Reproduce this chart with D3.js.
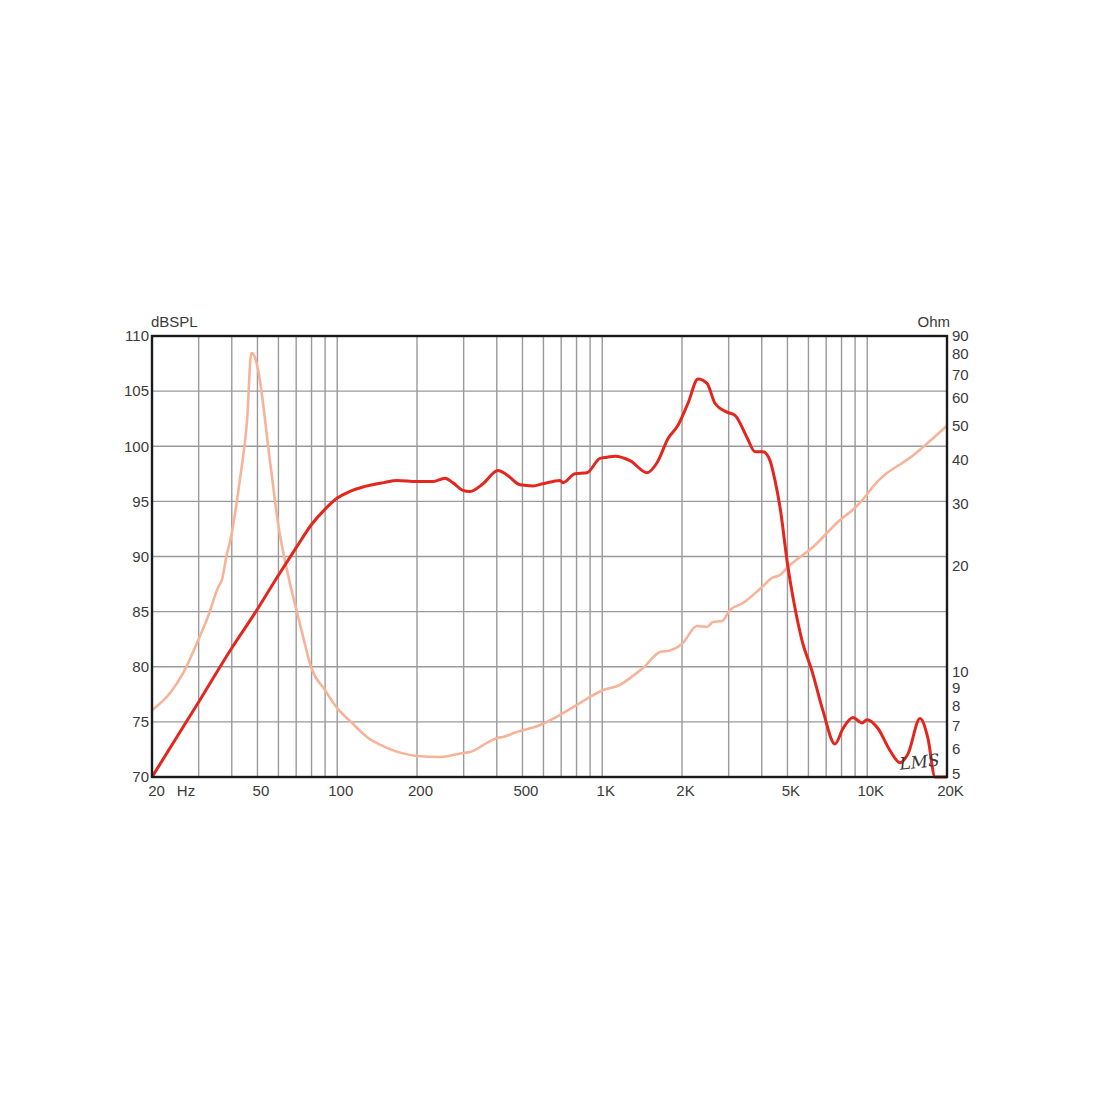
<!DOCTYPE html>
<html>
<head>
<meta charset="utf-8">
<script src="https://cdn.jsdelivr.net/npm/d3@7"></script>
<style>
  html, body { margin: 0; padding: 0; background: #fff; }
  svg { display: block; }
  text { font-family: "Liberation Sans", Arial, sans-serif; fill: #3a3a3a; }
</style>
</head>
<body>
<svg id="chart" width="1100" height="1100"></svg>
<script>
// ---- Data ----
const splFreq = [20, 30, 40, 49.3, 60, 70, 80, 90, 100, 111.7, 125, 150, 168, 200, 230, 255, 273, 298, 317, 355, 404, 437, 490, 548, 598, 693, 710, 789, 876, 981, 1043, 1117, 1273, 1476, 1610, 1772, 1932, 2107, 2299, 2486, 2664, 2956, 3170, 3518, 3772, 4044, 4297, 4487, 4686, 5024, 5246, 5673, 6190, 6810, 7557, 8101, 8835, 9553, 9980, 10980, 12190, 13300, 14250, 15820, 16950, 18030, 20000];
const splDb   = [70, 76.8, 81.7, 85.0, 88.3, 90.8, 92.9, 94.3, 95.3, 95.9, 96.3, 96.7, 96.9, 96.8, 96.8, 97.1, 96.7, 96.0, 95.9, 96.6, 97.8, 97.4, 96.5, 96.4, 96.6, 96.9, 96.7, 97.5, 97.6, 98.9, 99.0, 99.1, 98.7, 97.6, 98.5, 100.7, 101.9, 103.9, 106.1, 105.7, 103.9, 103.1, 102.8, 100.8, 99.5, 99.5, 98.7, 96.9, 94.5, 89.0, 86.3, 82.4, 79.6, 76.0, 73.0, 74.4, 75.4, 74.9, 75.2, 74.4, 72.4, 71.3, 72.1, 75.3, 73.5, 70, 70];

const impFreq = [20, 23.4, 26.2, 29.9, 32.5, 35.6, 36.7, 38.4, 39.4, 42.9, 45.7, 47.4, 48.5, 50.2, 55.7, 59.8, 66.3, 70.4, 75, 79.4, 89.9, 100, 111.7, 129.5, 154.1, 200, 244, 298, 317, 367.5, 400.8, 422, 477, 583, 693, 803, 899, 1007, 1167, 1273, 1425, 1652, 1802, 2000, 2279, 2486, 2618, 2831, 3035, 3399, 4008, 4372, 4686, 5024, 6243, 7896, 9000, 10000, 10500, 15000, 20000];
const impOhm  = [7.75, 8.67, 9.88, 12.27, 14.28, 17.4, 18.2, 21.7, 23.4, 35.0, 51.9, 80.5, 79.5, 72.5, 39.9, 26.4, 17.8, 14.8, 12.2, 10.35, 8.84, 7.85, 7.22, 6.50, 6.05, 5.74, 5.70, 5.85, 5.89, 6.25, 6.46, 6.50, 6.72, 7.03, 7.51, 8.02, 8.45, 8.84, 9.14, 9.56, 10.21, 11.35, 11.46, 11.95, 13.45, 13.37, 13.81, 13.9, 14.94, 15.64, 17.37, 18.43, 18.79, 19.81, 22.58, 26.95, 29.2, 31.9, 33.5, 41.3, 50];

const xGridFreqs = [30, 40, 50, 60, 70, 80, 90, 100, 200, 300, 400, 500, 600, 700, 800, 900, 1000, 2000, 3000, 4000, 5000, 6000, 7000, 8000, 9000, 10000];
const xTickFreqs = [20, 50, 100, 200, 500, 1000, 2000, 5000, 10000, 20000];
const xTickLabels = ["20", "50", "100", "200", "500", "1K", "2K", "5K", "10K", "20K"];
const dbTicks = [70, 75, 80, 85, 90, 95, 100, 105, 110];
const ohmTicks = [5, 6, 7, 8, 9, 10, 20, 30, 40, 50, 60, 70, 80, 90];

// ---- Layout ----
const L = 152, R = 947, T = 336, B = 777;
const svg = d3.select("#chart");

const x = d3.scaleLog().domain([20, 20000]).range([L, R]);
const yL = d3.scaleLinear().domain([70, 110]).range([B, T]);
const yR = d3.scaleLog().domain([5, 90]).range([B, T]);

// Grid
const grid = svg.append("g").attr("stroke", "#9a9a9a").attr("stroke-width", 1.4);
grid.selectAll("line.v").data(xGridFreqs).join("line")
  .attr("x1", d => x(d)).attr("x2", d => x(d)).attr("y1", T).attr("y2", B);
grid.selectAll("line.h").data(dbTicks.slice(1, -1)).join("line")
  .attr("x1", L).attr("x2", R).attr("y1", d => yL(d)).attr("y2", d => yL(d));

// Clip
svg.append("clipPath").attr("id", "clip").append("rect")
  .attr("x", L).attr("y", T).attr("width", R - L).attr("height", B - T);

// Impedance curve
const impData = impFreq.map((f, i) => [f, impOhm[i]]);
svg.append("path")
  .attr("clip-path", "url(#clip)")
  .attr("d", d3.line().x(d => x(d[0])).y(d => yR(d[1])).curve(d3.curveMonotoneX)(impData))
  .attr("fill", "none").attr("stroke", "#f6b398").attr("stroke-width", 2.6)
  .attr("stroke-linejoin", "round");

// SPL curve
const splData = splFreq.map((f, i) => [f, splDb[i]]);
svg.append("path")
  .attr("d", d3.line().x(d => x(d[0])).y(d => yL(d[1])).curve(d3.curveMonotoneX)(splData))
  .attr("fill", "none").attr("stroke", "#e3261e").attr("stroke-width", 3)
  .attr("stroke-linejoin", "round");

// Frame
svg.append("rect").attr("x", L).attr("y", T).attr("width", R - L).attr("height", B - T)
  .attr("fill", "none").attr("stroke", "#1a1a1a").attr("stroke-width", 2.4);

const fontFam = "'Liberation Sans', Arial, sans-serif";

// Left axis labels
const leftAxis = d3.axisLeft(yL).tickValues(dbTicks).tickSize(0).tickPadding(3).tickFormat(d3.format("d"));
const gl = svg.append("g").attr("transform", `translate(${L},0)`).call(leftAxis);
gl.select(".domain").remove();
gl.selectAll("text").style("font-size", "15px").attr("fill", "#3a3a3a").style("font-family", fontFam);

// Right axis labels
const rightAxis = d3.axisRight(yR).tickValues(ohmTicks).tickSize(0).tickPadding(5).tickFormat(d3.format("d"));
const gr = svg.append("g").attr("transform", `translate(${R},0)`).call(rightAxis);
gr.select(".domain").remove();
gr.selectAll("text").style("font-size", "15px").attr("fill", "#3a3a3a").style("font-family", fontFam);
gr.selectAll(".tick").filter(d => d === 5).select("text").attr("dy", "0.1em");

// Bottom axis labels
const bottomAxis = d3.axisBottom(x).tickValues(xTickFreqs).tickSize(0).tickPadding(8)
  .tickFormat((d, i) => xTickLabels[i]);
const gb = svg.append("g").attr("transform", `translate(3,${B})`).call(bottomAxis);
gb.select(".domain").remove();
gb.selectAll("text").style("font-size", "15px").attr("fill", "#3a3a3a").style("font-family", fontFam);
gb.selectAll(".tick").filter(d => d === 20).select("text").attr("dx", 1);

svg.append("text").attr("x", 186).attr("y", 796).attr("text-anchor", "middle")
  .style("font-size", "15px").text("Hz");

// Axis titles
svg.append("text").attr("x", 151).attr("y", 327).style("font-size", "15px").text("dBSPL");
svg.append("text").attr("x", 950).attr("y", 327).attr("text-anchor", "end").style("font-size", "15px").text("Ohm");

// LMS mark
svg.append("text").attr("x", 899).attr("y", 768)
  .attr("transform", "rotate(-6 917 760)")
  .style("font-size", "17px").style("font-style", "italic")
  .style("font-family", "'DejaVu Serif', serif").attr("fill", "#111")
  .text("LMS");
</script>
</body>
</html>
